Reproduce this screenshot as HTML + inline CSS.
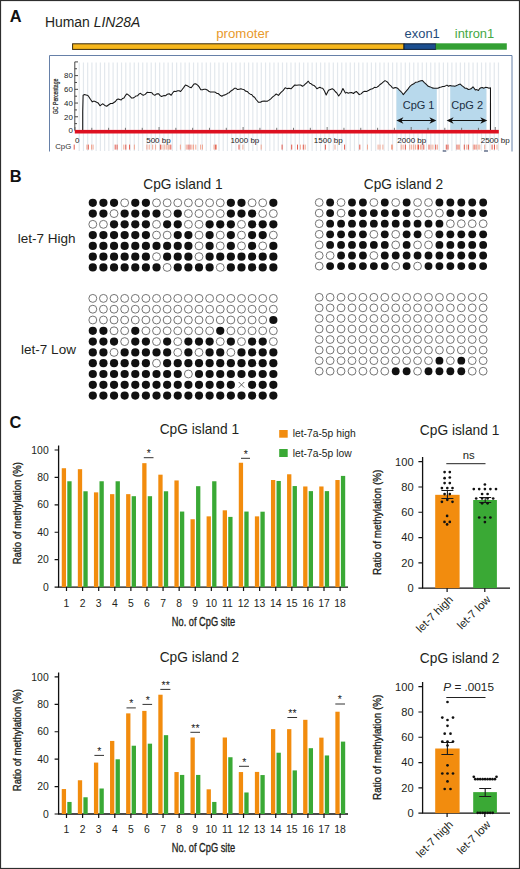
<!DOCTYPE html>
<html><head><meta charset="utf-8"><title>LIN28A methylation</title>
<style>html,body{margin:0;padding:0;background:#fff;}body{width:520px;height:869px;overflow:hidden;font-family:"Liberation Sans", sans-serif;}svg{display:block;}</style>
</head><body>
<svg width="520" height="869" viewBox="0 0 520 869" font-family='"Liberation Sans", sans-serif'><rect x="0" y="0" width="520" height="869" fill="#fff"/><text x="9.8" y="22.3" font-size="16.4" font-weight="bold" fill="#111">A</text><text x="44.9" y="26.6" font-size="13.95" fill="#231f20">Human <tspan font-style="italic">LIN28A</tspan></text><text x="216.2" y="38" font-size="13.25" fill="#E89A2C">promoter</text><text x="404.6" y="38.3" font-size="12.9" fill="#1F4B7A">exon1</text><text x="454.8" y="38.3" font-size="12.9" fill="#45A843">intron1</text><rect x="72.6" y="43.8" width="331.4" height="5.6" fill="#F7B71C" stroke="#3a2a08" stroke-width="1"/><rect x="404" y="43.8" width="31.8" height="5.6" fill="#1C4F8F" stroke="#0b1d33" stroke-width="1"/><rect x="435.8" y="43.3" width="71" height="6.4" fill="#33A033"/><path d="M49.5,151.5 V55.5 H512 V151.5" fill="none" stroke="#6680a8" stroke-width="1"/><path d="M79.20,62.5V151 M83.44,62.5V151 M87.67,62.5V151 M91.91,62.5V151 M96.14,62.5V151 M100.38,62.5V151 M104.62,62.5V151 M108.85,62.5V151 M113.09,62.5V151 M117.32,62.5V151 M121.56,62.5V151 M125.79,62.5V151 M130.03,62.5V151 M134.26,62.5V151 M138.50,62.5V151 M142.73,62.5V151 M146.97,62.5V151 M151.20,62.5V151 M155.44,62.5V151 M159.67,62.5V151 M163.91,62.5V151 M168.14,62.5V151 M172.38,62.5V151 M176.61,62.5V151 M180.85,62.5V151 M185.08,62.5V151 M189.31,62.5V151 M193.55,62.5V151 M197.79,62.5V151 M202.02,62.5V151 M206.25,62.5V151 M210.49,62.5V151 M214.73,62.5V151 M218.96,62.5V151 M223.20,62.5V151 M227.43,62.5V151 M231.67,62.5V151 M235.90,62.5V151 M240.14,62.5V151 M244.37,62.5V151 M248.61,62.5V151 M252.84,62.5V151 M257.08,62.5V151 M261.31,62.5V151 M265.55,62.5V151 M269.78,62.5V151 M274.01,62.5V151 M278.25,62.5V151 M282.49,62.5V151 M286.72,62.5V151 M290.96,62.5V151 M295.19,62.5V151 M299.43,62.5V151 M303.66,62.5V151 M307.89,62.5V151 M312.13,62.5V151 M316.37,62.5V151 M320.60,62.5V151 M324.84,62.5V151 M329.07,62.5V151 M333.31,62.5V151 M337.54,62.5V151 M341.77,62.5V151 M346.01,62.5V151 M350.25,62.5V151 M354.48,62.5V151 M358.72,62.5V151 M362.95,62.5V151 M367.19,62.5V151 M371.42,62.5V151 M375.65,62.5V151 M379.89,62.5V151 M384.12,62.5V151 M388.36,62.5V151 M392.60,62.5V151 M396.83,62.5V151 M401.07,62.5V151 M405.30,62.5V151 M409.53,62.5V151 M413.77,62.5V151 M418.00,62.5V151 M422.24,62.5V151 M426.48,62.5V151 M430.71,62.5V151 M434.95,62.5V151 M439.18,62.5V151 M443.42,62.5V151 M447.65,62.5V151 M451.88,62.5V151 M456.12,62.5V151 M460.36,62.5V151 M464.59,62.5V151 M468.83,62.5V151 M473.06,62.5V151 M477.30,62.5V151 M481.53,62.5V151 M485.76,62.5V151 M490.00,62.5V151 M494.24,62.5V151 M498.47,62.5V151" stroke="#e3e8ed" stroke-width="1.2" fill="none"/><path d="M396.5,129.8 L396.5,87.7 L399.4,90.2 L403.3,94.6 L406.2,91.2 L410.0,86.3 L413.8,83.8 L417.7,81.9 L422.5,80.6 L426.3,84.4 L430.2,86.9 L434.0,88.3 L436.8,88.3 L436.8,129.8Z M450.2,129.8 L450.2,85.5 L453.5,85.9 L457.5,85.1 L460.2,84.1 L462.2,85.9 L464.9,88.2 L468.3,89.5 L471.0,88.8 L473.0,86.8 L475.3,89.9 L478.4,90.5 L481.0,87.8 L483.7,88.2 L486.4,87.6 L486.4,129.8Z" fill="#b8d9ec"/><path d="M74.8,61.9V130.5" stroke="#333" stroke-width="0.9" fill="none"/><path d="M74.8,130.50h3.2 M74.8,123.64h2.2 M74.8,116.78h3.2 M74.8,109.92h2.2 M74.8,103.06h3.2 M74.8,96.20h2.2 M74.8,89.34h3.2 M74.8,82.48h2.2 M74.8,75.62h3.2 M74.8,68.76h2.2 M74.8,61.90h3.2" stroke="#333" stroke-width="0.9" fill="none"/><text x="72.9" y="133.3" font-size="7.9" text-anchor="end" fill="#222">0</text><text x="72.9" y="119.6" font-size="7.9" text-anchor="end" fill="#222">20</text><text x="72.9" y="105.9" font-size="7.9" text-anchor="end" fill="#222">40</text><text x="72.9" y="92.1" font-size="7.9" text-anchor="end" fill="#222">60</text><text x="72.9" y="78.4" font-size="7.9" text-anchor="end" fill="#222">80</text><text transform="translate(57.7,96.4) rotate(-90)" font-size="6.3" text-anchor="middle" fill="#222" stroke="#222" stroke-width="0.2" textLength="35.7" lengthAdjust="spacingAndGlyphs">GC Percentage</text><path d="M82.70,130.50 L82.70,111.70 L83.10,95.20 L84.60,94.60 L85.90,94.89 L87.20,95.18 L88.50,96.20 L90.40,99.26 L92.30,101.90 L93.75,101.10 L95.20,101.50 L96.65,102.25 L98.10,102.90 L100.00,105.80 L101.45,104.61 L102.90,103.80 L104.80,105.40 L106.70,106.20 L108.70,104.80 L110.60,103.53 L112.50,103.50 L113.95,102.51 L115.40,101.50 L116.85,99.60 L118.30,99.00 L119.75,99.41 L121.20,100.00 L122.60,98.45 L124.00,98.10 L125.45,95.38 L126.90,93.80 L128.35,94.89 L129.80,96.20 L131.70,98.10 L133.15,98.06 L134.60,97.10 L136.05,95.92 L137.50,95.80 L138.95,94.16 L140.40,93.30 L141.85,94.43 L143.30,95.20 L145.20,94.38 L147.10,92.30 L148.70,92.54 L150.30,92.42 L151.90,92.70 L153.35,94.62 L154.80,95.20 L156.75,93.87 L158.70,93.80 L160.10,95.65 L161.50,96.50 L162.80,95.97 L164.10,95.54 L165.40,95.80 L167.30,94.26 L169.20,93.80 L171.20,95.20 L172.60,92.98 L174.00,91.30 L175.85,91.49 L177.70,90.80 L179.15,90.70 L180.60,91.50 L182.20,89.45 L183.80,87.36 L185.40,85.00 L187.30,85.77 L189.20,86.90 L191.20,87.70 L192.60,85.92 L194.00,84.00 L195.30,83.85 L196.60,84.32 L197.90,85.40 L199.35,87.19 L200.80,89.80 L202.40,89.85 L204.00,89.30 L205.60,89.20 L207.20,89.91 L208.80,91.25 L210.40,92.10 L212.30,92.03 L214.20,92.10 L215.50,92.29 L216.80,93.45 L218.10,93.50 L220.00,95.18 L221.90,96.30 L223.50,95.18 L225.10,94.87 L226.70,94.00 L228.00,93.10 L229.30,92.66 L230.60,91.20 L232.50,90.07 L234.40,88.30 L236.00,88.30 L237.60,89.57 L239.20,89.20 L240.80,88.80 L242.40,89.35 L244.00,89.60 L245.60,91.13 L247.20,91.45 L248.80,93.10 L250.25,94.13 L251.70,94.55 L253.15,96.49 L254.60,97.30 L255.90,99.34 L257.20,100.74 L258.50,102.30 L260.40,102.28 L262.30,101.20 L264.25,100.99 L266.20,101.30 L267.50,101.12 L268.80,100.40 L270.75,98.78 L272.70,96.90 L274.45,95.56 L276.20,94.00 L278.50,95.40 L279.90,93.69 L281.30,92.10 L283.25,90.38 L285.20,87.70 L287.10,88.62 L289.00,88.30 L291.00,88.80 L292.90,86.86 L294.80,85.00 L296.75,85.23 L298.70,85.00 L300.60,85.03 L302.50,86.30 L303.95,85.33 L305.40,83.80 L306.85,82.71 L308.30,81.20 L309.75,83.19 L311.20,83.80 L312.60,85.05 L314.00,85.40 L315.45,86.80 L316.90,88.80 L318.35,87.89 L319.80,87.30 L321.25,88.04 L322.70,88.30 L324.45,90.98 L326.20,95.00 L328.50,90.20 L330.40,89.40 L332.30,88.70 L333.75,89.64 L335.20,91.50 L336.95,93.21 L338.70,96.00 L341.00,92.70 L342.90,88.50 L345.40,93.10 L346.80,92.35 L348.20,93.21 L349.60,92.70 L351.55,92.58 L353.50,93.50 L354.90,92.15 L356.30,91.50 L357.75,92.90 L359.20,94.60 L361.05,93.87 L362.90,92.10 L364.80,91.21 L366.70,91.50 L368.00,90.66 L369.30,90.04 L370.60,89.20 L372.50,88.79 L374.40,87.30 L375.70,87.41 L377.00,87.14 L378.30,86.30 L379.75,84.74 L381.20,83.80 L383.10,82.08 L385.00,80.60 L386.45,81.35 L387.90,82.50 L389.35,84.69 L390.80,85.80 L392.25,87.69 L393.70,88.30 L395.10,87.51 L396.50,87.70 L397.95,88.50 L399.40,90.20 L400.70,91.29 L402.00,92.76 L403.30,94.60 L404.75,92.88 L406.20,91.20 L408.10,88.87 L410.00,86.30 L411.90,84.72 L413.80,83.80 L415.75,82.16 L417.70,81.90 L419.30,81.35 L420.90,80.85 L422.50,80.60 L424.40,82.59 L426.30,84.40 L428.25,86.28 L430.20,86.90 L432.10,87.87 L434.00,88.30 L435.95,88.32 L437.90,88.30 L440.00,87.20 L441.35,86.96 L442.70,86.40 L444.05,86.40 L445.40,85.90 L446.97,85.14 L448.53,86.19 L450.10,85.50 L451.80,86.09 L453.50,85.90 L454.83,86.16 L456.17,85.78 L457.50,85.10 L458.85,84.45 L460.20,84.10 L462.20,85.90 L463.55,86.91 L464.90,88.20 L466.60,88.29 L468.30,89.50 L469.65,89.34 L471.00,88.80 L473.00,86.80 L475.30,89.90 L476.85,89.59 L478.40,90.50 L479.70,88.54 L481.00,87.80 L482.35,87.59 L483.70,88.20 L485.40,87.38 L487.10,87.50 L489.10,88.20 L490.50,87.80 L490.50,130.50" fill="none" stroke="#161616" stroke-width="1.05" stroke-linejoin="round"/><text x="418.6" y="109.4" font-size="11" text-anchor="middle" fill="#1b2e42">CpG 1</text><text x="467.2" y="109.4" font-size="11" text-anchor="middle" fill="#1b2e42">CpG 2</text><path d="M399.4,120.5H433.4" stroke="#111" stroke-width="1"/><path d="M396.4,120.5 L403.4,117.2 L401.4,120.5 L403.4,123.8Z M436.4,120.5 L429.4,117.2 L431.4,120.5 L429.4,123.8Z" fill="#111"/><path d="M449.6,120.5H484.3" stroke="#111" stroke-width="1"/><path d="M446.6,120.5 L453.6,117.2 L451.6,120.5 L453.6,123.8Z M487.3,120.5 L480.3,117.2 L482.3,120.5 L480.3,123.8Z" fill="#111"/><rect x="74.8" y="129.9" width="424" height="3.6" fill="#dd1020"/><path d="M75.00,127.00V130 M91.81,127.80V130 M108.62,127.80V130 M125.43,127.80V130 M142.24,127.80V130 M159.05,127.00V130 M175.86,127.80V130 M192.67,127.80V130 M209.48,127.80V130 M226.29,127.80V130 M243.10,127.00V130 M259.91,127.80V130 M276.72,127.80V130 M293.53,127.80V130 M310.34,127.80V130 M327.15,127.00V130 M343.96,127.80V130 M360.77,127.80V130 M377.58,127.80V130 M394.39,127.80V130 M411.20,127.00V130 M428.01,127.80V130 M444.82,127.80V130 M461.63,127.80V130 M478.44,127.80V130 M495.25,127.00V130" stroke="#555" stroke-width="0.8" fill="none"/><text x="77.3" y="142.6" font-size="8" text-anchor="middle" fill="#222">0</text><text x="146.2" y="142.6" font-size="8" fill="#222">500 bp</text><text x="230.4" y="142.6" font-size="8" fill="#222">1000 bp</text><text x="313.8" y="142.6" font-size="8" fill="#222">1500 bp</text><text x="397.3" y="142.6" font-size="8" fill="#222">2000 bp</text><text x="480.7" y="142.6" font-size="8" fill="#222">2500 bp</text><text x="55.2" y="149.3" font-size="7.8" fill="#333">CpG</text><path d="M74.2,144.6V149.6 M88.3,144.6V149.6 M115.2,144.6V149.6 M117.1,144.6V149.6 M125.8,144.6V149.6 M129.6,144.6V149.6 M160.4,144.6V149.6 M170.8,144.6V149.6 M188.1,144.6V149.6 M190.0,144.6V149.6 M215.4,144.6V149.6 M239.0,144.6V149.6 M282.1,144.6V149.6 M291.7,144.6V149.6 M297.5,144.6V149.6 M303.3,144.6V149.6 M325.4,144.6V149.6 M344.6,144.6V149.6 M359.8,144.6V149.6 M405.4,144.6V149.6 M418.5,144.6V149.6 M423.8,144.6V149.6 M429.0,144.6V149.6 M435.7,144.6V149.6 M446.3,144.6V149.6 M448.0,144.6V149.6 M457.0,144.6V149.6 M464.3,144.6V149.6 M468.4,144.6V149.6 M474.9,144.6V149.6 M492.1,144.6V149.6 M494.5,144.6V149.6" stroke="#e0483a" stroke-width="0.9" fill="none"/><path d="M86.9,144.6V149.6 M91.5,144.6V149.6 M93.1,144.6V149.6 M123.8,144.6V149.6 M134.4,144.6V149.6 M146.9,144.6V149.6 M149.2,144.6V149.6 M152.7,144.6V149.6 M155.6,144.6V149.6 M161.9,144.6V149.6 M164.2,144.6V149.6 M166.2,144.6V149.6 M168.1,144.6V149.6 M169.2,144.6V149.6 M180.4,144.6V149.6 M186.2,144.6V149.6 M191.9,144.6V149.6 M193.5,144.6V149.6 M195.8,144.6V149.6 M200.6,144.6V149.6 M202.5,144.6V149.6 M214.0,144.6V149.6 M216.5,144.6V149.6 M242.9,144.6V149.6 M261.2,144.6V149.6 M300.4,144.6V149.6 M305.2,144.6V149.6 M335.0,144.6V149.6 M367.5,144.6V149.6 M378.1,144.6V149.6 M380.0,144.6V149.6 M382.9,144.6V149.6 M391.5,144.6V149.6 M392.5,144.6V149.6 M401.2,144.6V149.6 M403.1,144.6V149.6 M409.8,144.6V149.6 M411.7,144.6V149.6 M413.7,144.6V149.6 M415.6,144.6V149.6 M417.5,144.6V149.6 M420.4,144.6V149.6 M421.9,144.6V149.6 M431.0,144.6V149.6 M432.9,144.6V149.6 M437.4,144.6V149.6 M458.6,144.6V149.6 M459.4,144.6V149.6 M466.8,144.6V149.6 M473.3,144.6V149.6 M476.6,144.6V149.6 M478.2,144.6V149.6 M479.8,144.6V149.6 M484.7,144.6V149.6 M497.0,144.6V149.6" stroke="#f0a08a" stroke-width="0.9" fill="none"/><path d="M442.7,151H446.3 M484,151H488" stroke="#1b2c55" stroke-width="1.2"/><text x="9.8" y="182.2" font-size="16.4" font-weight="bold" fill="#111">B</text><text x="183" y="188.9" font-size="13.75" text-anchor="middle" fill="#231f20">CpG island 1</text><text x="403.5" y="188.9" font-size="13.75" text-anchor="middle" fill="#231f20">CpG island 2</text><text x="75.6" y="242.6" font-size="13.5" text-anchor="end" fill="#231f20">let-7 High</text><text x="75.9" y="354.2" font-size="13.5" text-anchor="end" fill="#231f20">let-7 Low</text><g fill="#111"><circle cx="92.80" cy="202.80" r="4.1"/><circle cx="103.42" cy="202.80" r="4.1"/><circle cx="114.04" cy="202.80" r="4.1"/><circle cx="135.28" cy="202.80" r="4.1"/><circle cx="145.90" cy="202.80" r="4.1"/><circle cx="230.86" cy="202.80" r="4.1"/><circle cx="241.48" cy="202.80" r="4.1"/><circle cx="273.34" cy="202.80" r="4.1"/><circle cx="92.80" cy="213.57" r="4.1"/><circle cx="103.42" cy="213.57" r="4.1"/><circle cx="124.66" cy="213.57" r="4.1"/><circle cx="135.28" cy="213.57" r="4.1"/><circle cx="145.90" cy="213.57" r="4.1"/><circle cx="156.52" cy="213.57" r="4.1"/><circle cx="177.76" cy="213.57" r="4.1"/><circle cx="230.86" cy="213.57" r="4.1"/><circle cx="241.48" cy="213.57" r="4.1"/><circle cx="252.10" cy="213.57" r="4.1"/><circle cx="114.04" cy="224.34" r="4.1"/><circle cx="124.66" cy="224.34" r="4.1"/><circle cx="135.28" cy="224.34" r="4.1"/><circle cx="145.90" cy="224.34" r="4.1"/><circle cx="167.14" cy="224.34" r="4.1"/><circle cx="177.76" cy="224.34" r="4.1"/><circle cx="209.62" cy="224.34" r="4.1"/><circle cx="220.24" cy="224.34" r="4.1"/><circle cx="230.86" cy="224.34" r="4.1"/><circle cx="252.10" cy="224.34" r="4.1"/><circle cx="262.72" cy="224.34" r="4.1"/><circle cx="273.34" cy="224.34" r="4.1"/><circle cx="92.80" cy="235.11" r="4.1"/><circle cx="103.42" cy="235.11" r="4.1"/><circle cx="114.04" cy="235.11" r="4.1"/><circle cx="124.66" cy="235.11" r="4.1"/><circle cx="135.28" cy="235.11" r="4.1"/><circle cx="145.90" cy="235.11" r="4.1"/><circle cx="177.76" cy="235.11" r="4.1"/><circle cx="188.38" cy="235.11" r="4.1"/><circle cx="209.62" cy="235.11" r="4.1"/><circle cx="230.86" cy="235.11" r="4.1"/><circle cx="252.10" cy="235.11" r="4.1"/><circle cx="262.72" cy="235.11" r="4.1"/><circle cx="92.80" cy="245.88" r="4.1"/><circle cx="103.42" cy="245.88" r="4.1"/><circle cx="114.04" cy="245.88" r="4.1"/><circle cx="124.66" cy="245.88" r="4.1"/><circle cx="135.28" cy="245.88" r="4.1"/><circle cx="145.90" cy="245.88" r="4.1"/><circle cx="156.52" cy="245.88" r="4.1"/><circle cx="167.14" cy="245.88" r="4.1"/><circle cx="177.76" cy="245.88" r="4.1"/><circle cx="188.38" cy="245.88" r="4.1"/><circle cx="209.62" cy="245.88" r="4.1"/><circle cx="230.86" cy="245.88" r="4.1"/><circle cx="252.10" cy="245.88" r="4.1"/><circle cx="273.34" cy="245.88" r="4.1"/><circle cx="92.80" cy="256.65" r="4.1"/><circle cx="103.42" cy="256.65" r="4.1"/><circle cx="114.04" cy="256.65" r="4.1"/><circle cx="124.66" cy="256.65" r="4.1"/><circle cx="135.28" cy="256.65" r="4.1"/><circle cx="145.90" cy="256.65" r="4.1"/><circle cx="167.14" cy="256.65" r="4.1"/><circle cx="177.76" cy="256.65" r="4.1"/><circle cx="188.38" cy="256.65" r="4.1"/><circle cx="209.62" cy="256.65" r="4.1"/><circle cx="220.24" cy="256.65" r="4.1"/><circle cx="230.86" cy="256.65" r="4.1"/><circle cx="241.48" cy="256.65" r="4.1"/><circle cx="252.10" cy="256.65" r="4.1"/><circle cx="262.72" cy="256.65" r="4.1"/><circle cx="273.34" cy="256.65" r="4.1"/><circle cx="92.80" cy="267.42" r="4.1"/><circle cx="103.42" cy="267.42" r="4.1"/><circle cx="114.04" cy="267.42" r="4.1"/><circle cx="124.66" cy="267.42" r="4.1"/><circle cx="135.28" cy="267.42" r="4.1"/><circle cx="145.90" cy="267.42" r="4.1"/><circle cx="156.52" cy="267.42" r="4.1"/><circle cx="177.76" cy="267.42" r="4.1"/><circle cx="188.38" cy="267.42" r="4.1"/><circle cx="199.00" cy="267.42" r="4.1"/><circle cx="209.62" cy="267.42" r="4.1"/><circle cx="230.86" cy="267.42" r="4.1"/><circle cx="241.48" cy="267.42" r="4.1"/><circle cx="252.10" cy="267.42" r="4.1"/><circle cx="262.72" cy="267.42" r="4.1"/><circle cx="273.34" cy="267.42" r="4.1"/></g><g fill="#fff" stroke="#6d6d6d" stroke-width="0.95"><circle cx="124.66" cy="202.80" r="3.95"/><circle cx="156.52" cy="202.80" r="3.95"/><circle cx="167.14" cy="202.80" r="3.95"/><circle cx="177.76" cy="202.80" r="3.95"/><circle cx="188.38" cy="202.80" r="3.95"/><circle cx="199.00" cy="202.80" r="3.95"/><circle cx="209.62" cy="202.80" r="3.95"/><circle cx="220.24" cy="202.80" r="3.95"/><circle cx="252.10" cy="202.80" r="3.95"/><circle cx="262.72" cy="202.80" r="3.95"/><circle cx="114.04" cy="213.57" r="3.95"/><circle cx="167.14" cy="213.57" r="3.95"/><circle cx="188.38" cy="213.57" r="3.95"/><circle cx="199.00" cy="213.57" r="3.95"/><circle cx="209.62" cy="213.57" r="3.95"/><circle cx="220.24" cy="213.57" r="3.95"/><circle cx="262.72" cy="213.57" r="3.95"/><circle cx="273.34" cy="213.57" r="3.95"/><circle cx="92.80" cy="224.34" r="3.95"/><circle cx="103.42" cy="224.34" r="3.95"/><circle cx="156.52" cy="224.34" r="3.95"/><circle cx="188.38" cy="224.34" r="3.95"/><circle cx="199.00" cy="224.34" r="3.95"/><circle cx="241.48" cy="224.34" r="3.95"/><circle cx="156.52" cy="235.11" r="3.95"/><circle cx="167.14" cy="235.11" r="3.95"/><circle cx="199.00" cy="235.11" r="3.95"/><circle cx="220.24" cy="235.11" r="3.95"/><circle cx="241.48" cy="235.11" r="3.95"/><circle cx="273.34" cy="235.11" r="3.95"/><circle cx="199.00" cy="245.88" r="3.95"/><circle cx="220.24" cy="245.88" r="3.95"/><circle cx="241.48" cy="245.88" r="3.95"/><circle cx="262.72" cy="245.88" r="3.95"/><circle cx="156.52" cy="256.65" r="3.95"/><circle cx="199.00" cy="256.65" r="3.95"/><circle cx="167.14" cy="267.42" r="3.95"/><circle cx="220.24" cy="267.42" r="3.95"/></g><g fill="#111"><circle cx="273.34" cy="320.00" r="4.1"/><circle cx="92.80" cy="330.80" r="4.1"/><circle cx="103.42" cy="330.80" r="4.1"/><circle cx="135.28" cy="330.80" r="4.1"/><circle cx="220.24" cy="330.80" r="4.1"/><circle cx="92.80" cy="341.60" r="4.1"/><circle cx="103.42" cy="341.60" r="4.1"/><circle cx="114.04" cy="341.60" r="4.1"/><circle cx="135.28" cy="341.60" r="4.1"/><circle cx="145.90" cy="341.60" r="4.1"/><circle cx="167.14" cy="341.60" r="4.1"/><circle cx="188.38" cy="341.60" r="4.1"/><circle cx="199.00" cy="341.60" r="4.1"/><circle cx="209.62" cy="341.60" r="4.1"/><circle cx="230.86" cy="341.60" r="4.1"/><circle cx="252.10" cy="341.60" r="4.1"/><circle cx="262.72" cy="341.60" r="4.1"/><circle cx="92.80" cy="352.40" r="4.1"/><circle cx="103.42" cy="352.40" r="4.1"/><circle cx="124.66" cy="352.40" r="4.1"/><circle cx="135.28" cy="352.40" r="4.1"/><circle cx="145.90" cy="352.40" r="4.1"/><circle cx="156.52" cy="352.40" r="4.1"/><circle cx="167.14" cy="352.40" r="4.1"/><circle cx="188.38" cy="352.40" r="4.1"/><circle cx="209.62" cy="352.40" r="4.1"/><circle cx="220.24" cy="352.40" r="4.1"/><circle cx="241.48" cy="352.40" r="4.1"/><circle cx="252.10" cy="352.40" r="4.1"/><circle cx="262.72" cy="352.40" r="4.1"/><circle cx="273.34" cy="352.40" r="4.1"/><circle cx="92.80" cy="363.20" r="4.1"/><circle cx="103.42" cy="363.20" r="4.1"/><circle cx="114.04" cy="363.20" r="4.1"/><circle cx="124.66" cy="363.20" r="4.1"/><circle cx="135.28" cy="363.20" r="4.1"/><circle cx="145.90" cy="363.20" r="4.1"/><circle cx="167.14" cy="363.20" r="4.1"/><circle cx="177.76" cy="363.20" r="4.1"/><circle cx="188.38" cy="363.20" r="4.1"/><circle cx="199.00" cy="363.20" r="4.1"/><circle cx="209.62" cy="363.20" r="4.1"/><circle cx="220.24" cy="363.20" r="4.1"/><circle cx="230.86" cy="363.20" r="4.1"/><circle cx="241.48" cy="363.20" r="4.1"/><circle cx="252.10" cy="363.20" r="4.1"/><circle cx="262.72" cy="363.20" r="4.1"/><circle cx="273.34" cy="363.20" r="4.1"/><circle cx="92.80" cy="374.00" r="4.1"/><circle cx="103.42" cy="374.00" r="4.1"/><circle cx="114.04" cy="374.00" r="4.1"/><circle cx="124.66" cy="374.00" r="4.1"/><circle cx="135.28" cy="374.00" r="4.1"/><circle cx="145.90" cy="374.00" r="4.1"/><circle cx="156.52" cy="374.00" r="4.1"/><circle cx="167.14" cy="374.00" r="4.1"/><circle cx="177.76" cy="374.00" r="4.1"/><circle cx="199.00" cy="374.00" r="4.1"/><circle cx="209.62" cy="374.00" r="4.1"/><circle cx="220.24" cy="374.00" r="4.1"/><circle cx="230.86" cy="374.00" r="4.1"/><circle cx="241.48" cy="374.00" r="4.1"/><circle cx="252.10" cy="374.00" r="4.1"/><circle cx="262.72" cy="374.00" r="4.1"/><circle cx="273.34" cy="374.00" r="4.1"/><circle cx="92.80" cy="384.80" r="4.1"/><circle cx="103.42" cy="384.80" r="4.1"/><circle cx="114.04" cy="384.80" r="4.1"/><circle cx="124.66" cy="384.80" r="4.1"/><circle cx="135.28" cy="384.80" r="4.1"/><circle cx="145.90" cy="384.80" r="4.1"/><circle cx="156.52" cy="384.80" r="4.1"/><circle cx="167.14" cy="384.80" r="4.1"/><circle cx="177.76" cy="384.80" r="4.1"/><circle cx="188.38" cy="384.80" r="4.1"/><circle cx="199.00" cy="384.80" r="4.1"/><circle cx="209.62" cy="384.80" r="4.1"/><circle cx="220.24" cy="384.80" r="4.1"/><circle cx="230.86" cy="384.80" r="4.1"/><circle cx="252.10" cy="384.80" r="4.1"/><circle cx="262.72" cy="384.80" r="4.1"/><circle cx="273.34" cy="384.80" r="4.1"/><circle cx="92.80" cy="395.60" r="4.1"/><circle cx="103.42" cy="395.60" r="4.1"/><circle cx="114.04" cy="395.60" r="4.1"/><circle cx="124.66" cy="395.60" r="4.1"/><circle cx="135.28" cy="395.60" r="4.1"/><circle cx="145.90" cy="395.60" r="4.1"/><circle cx="156.52" cy="395.60" r="4.1"/><circle cx="167.14" cy="395.60" r="4.1"/><circle cx="177.76" cy="395.60" r="4.1"/><circle cx="188.38" cy="395.60" r="4.1"/><circle cx="199.00" cy="395.60" r="4.1"/><circle cx="209.62" cy="395.60" r="4.1"/><circle cx="220.24" cy="395.60" r="4.1"/><circle cx="230.86" cy="395.60" r="4.1"/><circle cx="241.48" cy="395.60" r="4.1"/><circle cx="252.10" cy="395.60" r="4.1"/><circle cx="262.72" cy="395.60" r="4.1"/><circle cx="273.34" cy="395.60" r="4.1"/></g><g fill="#fff" stroke="#6d6d6d" stroke-width="0.95"><circle cx="92.80" cy="298.40" r="3.95"/><circle cx="103.42" cy="298.40" r="3.95"/><circle cx="114.04" cy="298.40" r="3.95"/><circle cx="124.66" cy="298.40" r="3.95"/><circle cx="135.28" cy="298.40" r="3.95"/><circle cx="145.90" cy="298.40" r="3.95"/><circle cx="156.52" cy="298.40" r="3.95"/><circle cx="167.14" cy="298.40" r="3.95"/><circle cx="177.76" cy="298.40" r="3.95"/><circle cx="188.38" cy="298.40" r="3.95"/><circle cx="199.00" cy="298.40" r="3.95"/><circle cx="209.62" cy="298.40" r="3.95"/><circle cx="220.24" cy="298.40" r="3.95"/><circle cx="230.86" cy="298.40" r="3.95"/><circle cx="241.48" cy="298.40" r="3.95"/><circle cx="252.10" cy="298.40" r="3.95"/><circle cx="262.72" cy="298.40" r="3.95"/><circle cx="273.34" cy="298.40" r="3.95"/><circle cx="92.80" cy="309.20" r="3.95"/><circle cx="103.42" cy="309.20" r="3.95"/><circle cx="114.04" cy="309.20" r="3.95"/><circle cx="124.66" cy="309.20" r="3.95"/><circle cx="135.28" cy="309.20" r="3.95"/><circle cx="145.90" cy="309.20" r="3.95"/><circle cx="156.52" cy="309.20" r="3.95"/><circle cx="167.14" cy="309.20" r="3.95"/><circle cx="177.76" cy="309.20" r="3.95"/><circle cx="188.38" cy="309.20" r="3.95"/><circle cx="199.00" cy="309.20" r="3.95"/><circle cx="209.62" cy="309.20" r="3.95"/><circle cx="220.24" cy="309.20" r="3.95"/><circle cx="230.86" cy="309.20" r="3.95"/><circle cx="241.48" cy="309.20" r="3.95"/><circle cx="252.10" cy="309.20" r="3.95"/><circle cx="262.72" cy="309.20" r="3.95"/><circle cx="273.34" cy="309.20" r="3.95"/><circle cx="92.80" cy="320.00" r="3.95"/><circle cx="103.42" cy="320.00" r="3.95"/><circle cx="114.04" cy="320.00" r="3.95"/><circle cx="124.66" cy="320.00" r="3.95"/><circle cx="135.28" cy="320.00" r="3.95"/><circle cx="145.90" cy="320.00" r="3.95"/><circle cx="156.52" cy="320.00" r="3.95"/><circle cx="167.14" cy="320.00" r="3.95"/><circle cx="177.76" cy="320.00" r="3.95"/><circle cx="188.38" cy="320.00" r="3.95"/><circle cx="199.00" cy="320.00" r="3.95"/><circle cx="209.62" cy="320.00" r="3.95"/><circle cx="220.24" cy="320.00" r="3.95"/><circle cx="230.86" cy="320.00" r="3.95"/><circle cx="241.48" cy="320.00" r="3.95"/><circle cx="252.10" cy="320.00" r="3.95"/><circle cx="262.72" cy="320.00" r="3.95"/><circle cx="114.04" cy="330.80" r="3.95"/><circle cx="124.66" cy="330.80" r="3.95"/><circle cx="145.90" cy="330.80" r="3.95"/><circle cx="156.52" cy="330.80" r="3.95"/><circle cx="167.14" cy="330.80" r="3.95"/><circle cx="177.76" cy="330.80" r="3.95"/><circle cx="188.38" cy="330.80" r="3.95"/><circle cx="199.00" cy="330.80" r="3.95"/><circle cx="209.62" cy="330.80" r="3.95"/><circle cx="230.86" cy="330.80" r="3.95"/><circle cx="241.48" cy="330.80" r="3.95"/><circle cx="252.10" cy="330.80" r="3.95"/><circle cx="262.72" cy="330.80" r="3.95"/><circle cx="273.34" cy="330.80" r="3.95"/><circle cx="124.66" cy="341.60" r="3.95"/><circle cx="156.52" cy="341.60" r="3.95"/><circle cx="177.76" cy="341.60" r="3.95"/><circle cx="220.24" cy="341.60" r="3.95"/><circle cx="241.48" cy="341.60" r="3.95"/><circle cx="273.34" cy="341.60" r="3.95"/><circle cx="114.04" cy="352.40" r="3.95"/><circle cx="177.76" cy="352.40" r="3.95"/><circle cx="199.00" cy="352.40" r="3.95"/><circle cx="230.86" cy="352.40" r="3.95"/><circle cx="156.52" cy="363.20" r="3.95"/><circle cx="188.38" cy="374.00" r="3.95"/></g><path d="M238.67999999999995,381.99999999999994L244.27999999999997,387.59999999999997M244.27999999999997,381.99999999999994L238.67999999999995,387.59999999999997" stroke="#444" stroke-width="0.8"/><g fill="#111"><circle cx="330.13" cy="202.50" r="3.92"/><circle cx="351.99" cy="202.50" r="3.92"/><circle cx="362.92" cy="202.50" r="3.92"/><circle cx="384.78" cy="202.50" r="3.92"/><circle cx="406.64" cy="202.50" r="3.92"/><circle cx="439.43" cy="202.50" r="3.92"/><circle cx="450.36" cy="202.50" r="3.92"/><circle cx="461.29" cy="202.50" r="3.92"/><circle cx="472.22" cy="202.50" r="3.92"/><circle cx="483.15" cy="202.50" r="3.92"/><circle cx="330.13" cy="213.10" r="3.92"/><circle cx="351.99" cy="213.10" r="3.92"/><circle cx="362.92" cy="213.10" r="3.92"/><circle cx="373.85" cy="213.10" r="3.92"/><circle cx="384.78" cy="213.10" r="3.92"/><circle cx="395.71" cy="213.10" r="3.92"/><circle cx="406.64" cy="213.10" r="3.92"/><circle cx="450.36" cy="213.10" r="3.92"/><circle cx="461.29" cy="213.10" r="3.92"/><circle cx="472.22" cy="213.10" r="3.92"/><circle cx="483.15" cy="213.10" r="3.92"/><circle cx="330.13" cy="223.70" r="3.92"/><circle cx="341.06" cy="223.70" r="3.92"/><circle cx="351.99" cy="223.70" r="3.92"/><circle cx="362.92" cy="223.70" r="3.92"/><circle cx="373.85" cy="223.70" r="3.92"/><circle cx="384.78" cy="223.70" r="3.92"/><circle cx="395.71" cy="223.70" r="3.92"/><circle cx="406.64" cy="223.70" r="3.92"/><circle cx="417.57" cy="223.70" r="3.92"/><circle cx="428.50" cy="223.70" r="3.92"/><circle cx="439.43" cy="223.70" r="3.92"/><circle cx="330.13" cy="234.30" r="3.92"/><circle cx="341.06" cy="234.30" r="3.92"/><circle cx="351.99" cy="234.30" r="3.92"/><circle cx="362.92" cy="234.30" r="3.92"/><circle cx="384.78" cy="234.30" r="3.92"/><circle cx="406.64" cy="234.30" r="3.92"/><circle cx="417.57" cy="234.30" r="3.92"/><circle cx="439.43" cy="234.30" r="3.92"/><circle cx="450.36" cy="234.30" r="3.92"/><circle cx="461.29" cy="234.30" r="3.92"/><circle cx="472.22" cy="234.30" r="3.92"/><circle cx="483.15" cy="234.30" r="3.92"/><circle cx="330.13" cy="244.90" r="3.92"/><circle cx="341.06" cy="244.90" r="3.92"/><circle cx="351.99" cy="244.90" r="3.92"/><circle cx="362.92" cy="244.90" r="3.92"/><circle cx="373.85" cy="244.90" r="3.92"/><circle cx="384.78" cy="244.90" r="3.92"/><circle cx="406.64" cy="244.90" r="3.92"/><circle cx="439.43" cy="244.90" r="3.92"/><circle cx="450.36" cy="244.90" r="3.92"/><circle cx="461.29" cy="244.90" r="3.92"/><circle cx="472.22" cy="244.90" r="3.92"/><circle cx="483.15" cy="244.90" r="3.92"/><circle cx="341.06" cy="255.50" r="3.92"/><circle cx="351.99" cy="255.50" r="3.92"/><circle cx="362.92" cy="255.50" r="3.92"/><circle cx="384.78" cy="255.50" r="3.92"/><circle cx="395.71" cy="255.50" r="3.92"/><circle cx="406.64" cy="255.50" r="3.92"/><circle cx="417.57" cy="255.50" r="3.92"/><circle cx="428.50" cy="255.50" r="3.92"/><circle cx="439.43" cy="255.50" r="3.92"/><circle cx="450.36" cy="255.50" r="3.92"/><circle cx="461.29" cy="255.50" r="3.92"/><circle cx="472.22" cy="255.50" r="3.92"/><circle cx="483.15" cy="255.50" r="3.92"/><circle cx="330.13" cy="266.10" r="3.92"/><circle cx="341.06" cy="266.10" r="3.92"/><circle cx="351.99" cy="266.10" r="3.92"/><circle cx="362.92" cy="266.10" r="3.92"/><circle cx="373.85" cy="266.10" r="3.92"/><circle cx="384.78" cy="266.10" r="3.92"/><circle cx="406.64" cy="266.10" r="3.92"/><circle cx="428.50" cy="266.10" r="3.92"/><circle cx="439.43" cy="266.10" r="3.92"/><circle cx="450.36" cy="266.10" r="3.92"/><circle cx="461.29" cy="266.10" r="3.92"/><circle cx="472.22" cy="266.10" r="3.92"/><circle cx="483.15" cy="266.10" r="3.92"/></g><g fill="#fff" stroke="#6d6d6d" stroke-width="0.95"><circle cx="319.20" cy="202.50" r="3.9"/><circle cx="341.06" cy="202.50" r="3.9"/><circle cx="373.85" cy="202.50" r="3.9"/><circle cx="395.71" cy="202.50" r="3.9"/><circle cx="417.57" cy="202.50" r="3.9"/><circle cx="428.50" cy="202.50" r="3.9"/><circle cx="319.20" cy="213.10" r="3.9"/><circle cx="341.06" cy="213.10" r="3.9"/><circle cx="417.57" cy="213.10" r="3.9"/><circle cx="428.50" cy="213.10" r="3.9"/><circle cx="439.43" cy="213.10" r="3.9"/><circle cx="319.20" cy="223.70" r="3.9"/><circle cx="450.36" cy="223.70" r="3.9"/><circle cx="461.29" cy="223.70" r="3.9"/><circle cx="472.22" cy="223.70" r="3.9"/><circle cx="483.15" cy="223.70" r="3.9"/><circle cx="319.20" cy="234.30" r="3.9"/><circle cx="373.85" cy="234.30" r="3.9"/><circle cx="395.71" cy="234.30" r="3.9"/><circle cx="428.50" cy="234.30" r="3.9"/><circle cx="319.20" cy="244.90" r="3.9"/><circle cx="395.71" cy="244.90" r="3.9"/><circle cx="417.57" cy="244.90" r="3.9"/><circle cx="428.50" cy="244.90" r="3.9"/><circle cx="319.20" cy="255.50" r="3.9"/><circle cx="330.13" cy="255.50" r="3.9"/><circle cx="373.85" cy="255.50" r="3.9"/><circle cx="319.20" cy="266.10" r="3.9"/><circle cx="395.71" cy="266.10" r="3.9"/><circle cx="417.57" cy="266.10" r="3.9"/></g><g fill="#111"><circle cx="439.43" cy="360.66" r="3.92"/><circle cx="461.29" cy="360.66" r="3.92"/><circle cx="395.71" cy="371.22" r="3.92"/><circle cx="406.64" cy="371.22" r="3.92"/><circle cx="428.50" cy="371.22" r="3.92"/><circle cx="439.43" cy="371.22" r="3.92"/><circle cx="450.36" cy="371.22" r="3.92"/><circle cx="461.29" cy="371.22" r="3.92"/></g><g fill="#fff" stroke="#6d6d6d" stroke-width="0.95"><circle cx="319.20" cy="297.30" r="3.9"/><circle cx="330.13" cy="297.30" r="3.9"/><circle cx="341.06" cy="297.30" r="3.9"/><circle cx="351.99" cy="297.30" r="3.9"/><circle cx="362.92" cy="297.30" r="3.9"/><circle cx="373.85" cy="297.30" r="3.9"/><circle cx="384.78" cy="297.30" r="3.9"/><circle cx="395.71" cy="297.30" r="3.9"/><circle cx="406.64" cy="297.30" r="3.9"/><circle cx="417.57" cy="297.30" r="3.9"/><circle cx="428.50" cy="297.30" r="3.9"/><circle cx="439.43" cy="297.30" r="3.9"/><circle cx="450.36" cy="297.30" r="3.9"/><circle cx="461.29" cy="297.30" r="3.9"/><circle cx="472.22" cy="297.30" r="3.9"/><circle cx="483.15" cy="297.30" r="3.9"/><circle cx="319.20" cy="307.86" r="3.9"/><circle cx="330.13" cy="307.86" r="3.9"/><circle cx="341.06" cy="307.86" r="3.9"/><circle cx="351.99" cy="307.86" r="3.9"/><circle cx="362.92" cy="307.86" r="3.9"/><circle cx="373.85" cy="307.86" r="3.9"/><circle cx="384.78" cy="307.86" r="3.9"/><circle cx="395.71" cy="307.86" r="3.9"/><circle cx="406.64" cy="307.86" r="3.9"/><circle cx="417.57" cy="307.86" r="3.9"/><circle cx="428.50" cy="307.86" r="3.9"/><circle cx="439.43" cy="307.86" r="3.9"/><circle cx="450.36" cy="307.86" r="3.9"/><circle cx="461.29" cy="307.86" r="3.9"/><circle cx="472.22" cy="307.86" r="3.9"/><circle cx="483.15" cy="307.86" r="3.9"/><circle cx="319.20" cy="318.42" r="3.9"/><circle cx="330.13" cy="318.42" r="3.9"/><circle cx="341.06" cy="318.42" r="3.9"/><circle cx="351.99" cy="318.42" r="3.9"/><circle cx="362.92" cy="318.42" r="3.9"/><circle cx="373.85" cy="318.42" r="3.9"/><circle cx="384.78" cy="318.42" r="3.9"/><circle cx="395.71" cy="318.42" r="3.9"/><circle cx="406.64" cy="318.42" r="3.9"/><circle cx="417.57" cy="318.42" r="3.9"/><circle cx="428.50" cy="318.42" r="3.9"/><circle cx="439.43" cy="318.42" r="3.9"/><circle cx="450.36" cy="318.42" r="3.9"/><circle cx="461.29" cy="318.42" r="3.9"/><circle cx="472.22" cy="318.42" r="3.9"/><circle cx="483.15" cy="318.42" r="3.9"/><circle cx="319.20" cy="328.98" r="3.9"/><circle cx="330.13" cy="328.98" r="3.9"/><circle cx="341.06" cy="328.98" r="3.9"/><circle cx="351.99" cy="328.98" r="3.9"/><circle cx="362.92" cy="328.98" r="3.9"/><circle cx="373.85" cy="328.98" r="3.9"/><circle cx="384.78" cy="328.98" r="3.9"/><circle cx="395.71" cy="328.98" r="3.9"/><circle cx="406.64" cy="328.98" r="3.9"/><circle cx="417.57" cy="328.98" r="3.9"/><circle cx="428.50" cy="328.98" r="3.9"/><circle cx="439.43" cy="328.98" r="3.9"/><circle cx="450.36" cy="328.98" r="3.9"/><circle cx="461.29" cy="328.98" r="3.9"/><circle cx="472.22" cy="328.98" r="3.9"/><circle cx="483.15" cy="328.98" r="3.9"/><circle cx="319.20" cy="339.54" r="3.9"/><circle cx="330.13" cy="339.54" r="3.9"/><circle cx="341.06" cy="339.54" r="3.9"/><circle cx="351.99" cy="339.54" r="3.9"/><circle cx="362.92" cy="339.54" r="3.9"/><circle cx="373.85" cy="339.54" r="3.9"/><circle cx="384.78" cy="339.54" r="3.9"/><circle cx="395.71" cy="339.54" r="3.9"/><circle cx="406.64" cy="339.54" r="3.9"/><circle cx="417.57" cy="339.54" r="3.9"/><circle cx="428.50" cy="339.54" r="3.9"/><circle cx="439.43" cy="339.54" r="3.9"/><circle cx="450.36" cy="339.54" r="3.9"/><circle cx="461.29" cy="339.54" r="3.9"/><circle cx="472.22" cy="339.54" r="3.9"/><circle cx="483.15" cy="339.54" r="3.9"/><circle cx="319.20" cy="350.10" r="3.9"/><circle cx="330.13" cy="350.10" r="3.9"/><circle cx="341.06" cy="350.10" r="3.9"/><circle cx="351.99" cy="350.10" r="3.9"/><circle cx="362.92" cy="350.10" r="3.9"/><circle cx="373.85" cy="350.10" r="3.9"/><circle cx="384.78" cy="350.10" r="3.9"/><circle cx="395.71" cy="350.10" r="3.9"/><circle cx="406.64" cy="350.10" r="3.9"/><circle cx="417.57" cy="350.10" r="3.9"/><circle cx="428.50" cy="350.10" r="3.9"/><circle cx="439.43" cy="350.10" r="3.9"/><circle cx="450.36" cy="350.10" r="3.9"/><circle cx="461.29" cy="350.10" r="3.9"/><circle cx="472.22" cy="350.10" r="3.9"/><circle cx="483.15" cy="350.10" r="3.9"/><circle cx="319.20" cy="360.66" r="3.9"/><circle cx="330.13" cy="360.66" r="3.9"/><circle cx="341.06" cy="360.66" r="3.9"/><circle cx="351.99" cy="360.66" r="3.9"/><circle cx="362.92" cy="360.66" r="3.9"/><circle cx="373.85" cy="360.66" r="3.9"/><circle cx="384.78" cy="360.66" r="3.9"/><circle cx="395.71" cy="360.66" r="3.9"/><circle cx="406.64" cy="360.66" r="3.9"/><circle cx="417.57" cy="360.66" r="3.9"/><circle cx="428.50" cy="360.66" r="3.9"/><circle cx="450.36" cy="360.66" r="3.9"/><circle cx="472.22" cy="360.66" r="3.9"/><circle cx="483.15" cy="360.66" r="3.9"/><circle cx="319.20" cy="371.22" r="3.9"/><circle cx="330.13" cy="371.22" r="3.9"/><circle cx="341.06" cy="371.22" r="3.9"/><circle cx="351.99" cy="371.22" r="3.9"/><circle cx="362.92" cy="371.22" r="3.9"/><circle cx="373.85" cy="371.22" r="3.9"/><circle cx="384.78" cy="371.22" r="3.9"/><circle cx="417.57" cy="371.22" r="3.9"/><circle cx="472.22" cy="371.22" r="3.9"/><circle cx="483.15" cy="371.22" r="3.9"/></g><text x="9.6" y="427.8" font-size="16.4" font-weight="bold" fill="#111">C</text><rect x="279.2" y="430" width="8.5" height="7.7" fill="#F28C0E"/><rect x="279.2" y="449" width="8.5" height="8" fill="#3AA935"/><text x="292.7" y="437.3" font-size="10.3" fill="#231f20">let-7a-5p high</text><text x="292.7" y="456.5" font-size="10.3" fill="#231f20">let-7a-5p low</text><text x="199.4" y="433.7" font-size="13.75" text-anchor="middle" fill="#231f20">CpG island 1</text><path d="M58.6,445.5V587.1H348" stroke="#111" stroke-width="1.3" fill="none"/><text x="48.7" y="590.7" font-size="10.4" text-anchor="end" fill="#231f20">0</text><text x="48.7" y="563.3" font-size="10.4" text-anchor="end" fill="#231f20">20</text><text x="48.7" y="535.9" font-size="10.4" text-anchor="end" fill="#231f20">40</text><text x="48.7" y="508.4" font-size="10.4" text-anchor="end" fill="#231f20">60</text><text x="48.7" y="481.0" font-size="10.4" text-anchor="end" fill="#231f20">80</text><text x="48.7" y="453.6" font-size="10.4" text-anchor="end" fill="#231f20">100</text><text x="66.50" y="606.5" font-size="10.4" text-anchor="middle" fill="#231f20">1</text><text x="82.59" y="606.5" font-size="10.4" text-anchor="middle" fill="#231f20">2</text><text x="98.69" y="606.5" font-size="10.4" text-anchor="middle" fill="#231f20">3</text><text x="114.78" y="606.5" font-size="10.4" text-anchor="middle" fill="#231f20">4</text><text x="130.88" y="606.5" font-size="10.4" text-anchor="middle" fill="#231f20">5</text><text x="146.97" y="606.5" font-size="10.4" text-anchor="middle" fill="#231f20">6</text><text x="163.06" y="606.5" font-size="10.4" text-anchor="middle" fill="#231f20">7</text><text x="179.16" y="606.5" font-size="10.4" text-anchor="middle" fill="#231f20">8</text><text x="195.25" y="606.5" font-size="10.4" text-anchor="middle" fill="#231f20">9</text><text x="211.35" y="606.5" font-size="10.4" text-anchor="middle" fill="#231f20">10</text><text x="227.44" y="606.5" font-size="10.4" text-anchor="middle" fill="#231f20">11</text><text x="243.53" y="606.5" font-size="10.4" text-anchor="middle" fill="#231f20">12</text><text x="259.63" y="606.5" font-size="10.4" text-anchor="middle" fill="#231f20">13</text><text x="275.72" y="606.5" font-size="10.4" text-anchor="middle" fill="#231f20">14</text><text x="291.82" y="606.5" font-size="10.4" text-anchor="middle" fill="#231f20">15</text><text x="307.91" y="606.5" font-size="10.4" text-anchor="middle" fill="#231f20">16</text><text x="324.00" y="606.5" font-size="10.4" text-anchor="middle" fill="#231f20">17</text><text x="340.10" y="606.5" font-size="10.4" text-anchor="middle" fill="#231f20">18</text><path d="M54.6,587.10H58.6 M54.6,559.68H58.6 M54.6,532.26H58.6 M54.6,504.84H58.6 M54.6,477.42H58.6 M54.6,450.00H58.6 M66.50,587.1V591.1 M82.59,587.1V591.1 M98.69,587.1V591.1 M114.78,587.1V591.1 M130.88,587.1V591.1 M146.97,587.1V591.1 M163.06,587.1V591.1 M179.16,587.1V591.1 M195.25,587.1V591.1 M211.35,587.1V591.1 M227.44,587.1V591.1 M243.53,587.1V591.1 M259.63,587.1V591.1 M275.72,587.1V591.1 M291.82,587.1V591.1 M307.91,587.1V591.1 M324.00,587.1V591.1 M340.10,587.1V591.1" stroke="#111" stroke-width="1.2" fill="none"/><rect x="61.75" y="468.23" width="4.3" height="118.87" fill="#F28C0E"/><rect x="67.30" y="481.26" width="4.3" height="105.84" fill="#3AA935"/><rect x="77.84" y="469.19" width="4.3" height="117.91" fill="#F28C0E"/><rect x="83.39" y="491.27" width="4.3" height="95.83" fill="#3AA935"/><rect x="93.94" y="492.36" width="4.3" height="94.74" fill="#F28C0E"/><rect x="99.49" y="481.26" width="4.3" height="105.84" fill="#3AA935"/><rect x="110.03" y="494.15" width="4.3" height="92.95" fill="#F28C0E"/><rect x="115.58" y="481.26" width="4.3" height="105.84" fill="#3AA935"/><rect x="126.13" y="494.15" width="4.3" height="92.95" fill="#F28C0E"/><rect x="131.68" y="496.20" width="4.3" height="90.90" fill="#3AA935"/><rect x="142.22" y="463.16" width="4.3" height="123.94" fill="#F28C0E"/><rect x="147.77" y="496.20" width="4.3" height="90.90" fill="#3AA935"/><rect x="158.31" y="474.68" width="4.3" height="112.42" fill="#F28C0E"/><rect x="163.86" y="491.27" width="4.3" height="95.83" fill="#3AA935"/><rect x="174.41" y="480.44" width="4.3" height="106.66" fill="#F28C0E"/><rect x="179.96" y="511.56" width="4.3" height="75.54" fill="#3AA935"/><rect x="190.50" y="519.24" width="4.3" height="67.86" fill="#F28C0E"/><rect x="196.05" y="486.19" width="4.3" height="100.91" fill="#3AA935"/><rect x="206.60" y="516.36" width="4.3" height="70.74" fill="#F28C0E"/><rect x="212.15" y="481.26" width="4.3" height="105.84" fill="#3AA935"/><rect x="222.69" y="510.32" width="4.3" height="76.78" fill="#F28C0E"/><rect x="228.24" y="516.90" width="4.3" height="70.20" fill="#3AA935"/><rect x="238.78" y="462.75" width="4.3" height="124.35" fill="#F28C0E"/><rect x="244.33" y="511.56" width="4.3" height="75.54" fill="#3AA935"/><rect x="254.88" y="516.36" width="4.3" height="70.74" fill="#F28C0E"/><rect x="260.43" y="511.70" width="4.3" height="75.41" fill="#3AA935"/><rect x="270.97" y="480.02" width="4.3" height="107.08" fill="#F28C0E"/><rect x="276.52" y="480.98" width="4.3" height="106.12" fill="#3AA935"/><rect x="287.07" y="474.27" width="4.3" height="112.83" fill="#F28C0E"/><rect x="292.62" y="486.06" width="4.3" height="101.04" fill="#3AA935"/><rect x="303.16" y="486.47" width="4.3" height="100.63" fill="#F28C0E"/><rect x="308.71" y="491.13" width="4.3" height="95.97" fill="#3AA935"/><rect x="319.25" y="486.47" width="4.3" height="100.63" fill="#F28C0E"/><rect x="324.80" y="491.13" width="4.3" height="95.97" fill="#3AA935"/><rect x="335.35" y="480.02" width="4.3" height="107.08" fill="#F28C0E"/><rect x="340.90" y="475.91" width="4.3" height="111.19" fill="#3AA935"/><path d="M143.8,457.7H153.5" stroke="#333" stroke-width="1"/><text x="148.8" y="457.3" font-size="10.5" text-anchor="middle" fill="#1a1a1a">*</text><path d="M241,458.3H250" stroke="#333" stroke-width="1"/><text x="245.8" y="457.6" font-size="10.5" text-anchor="middle" fill="#1a1a1a">*</text><text transform="translate(21.3,513.25) rotate(-90)" font-size="10.9" text-anchor="middle" fill="#231f20" stroke="#231f20" stroke-width="0.35" textLength="102.2" lengthAdjust="spacingAndGlyphs">Ratio of methylation (%)</text><text x="203.5" y="625.5" font-size="13.1" text-anchor="middle" fill="#231f20" stroke="#231f20" stroke-width="0.35" textLength="63.3" lengthAdjust="spacingAndGlyphs">No. of CpG site</text><text x="199.4" y="662.4" font-size="13.75" text-anchor="middle" fill="#231f20">CpG island 2</text><path d="M58.6,672.4V814.0H348" stroke="#111" stroke-width="1.3" fill="none"/><text x="48.7" y="817.6" font-size="10.4" text-anchor="end" fill="#231f20">0</text><text x="48.7" y="790.2" font-size="10.4" text-anchor="end" fill="#231f20">20</text><text x="48.7" y="762.8" font-size="10.4" text-anchor="end" fill="#231f20">40</text><text x="48.7" y="735.3" font-size="10.4" text-anchor="end" fill="#231f20">60</text><text x="48.7" y="707.9" font-size="10.4" text-anchor="end" fill="#231f20">80</text><text x="48.7" y="680.5" font-size="10.4" text-anchor="end" fill="#231f20">100</text><text x="66.50" y="833.4" font-size="10.4" text-anchor="middle" fill="#231f20">1</text><text x="82.59" y="833.4" font-size="10.4" text-anchor="middle" fill="#231f20">2</text><text x="98.69" y="833.4" font-size="10.4" text-anchor="middle" fill="#231f20">3</text><text x="114.78" y="833.4" font-size="10.4" text-anchor="middle" fill="#231f20">4</text><text x="130.88" y="833.4" font-size="10.4" text-anchor="middle" fill="#231f20">5</text><text x="146.97" y="833.4" font-size="10.4" text-anchor="middle" fill="#231f20">6</text><text x="163.06" y="833.4" font-size="10.4" text-anchor="middle" fill="#231f20">7</text><text x="179.16" y="833.4" font-size="10.4" text-anchor="middle" fill="#231f20">8</text><text x="195.25" y="833.4" font-size="10.4" text-anchor="middle" fill="#231f20">9</text><text x="211.35" y="833.4" font-size="10.4" text-anchor="middle" fill="#231f20">10</text><text x="227.44" y="833.4" font-size="10.4" text-anchor="middle" fill="#231f20">11</text><text x="243.53" y="833.4" font-size="10.4" text-anchor="middle" fill="#231f20">12</text><text x="259.63" y="833.4" font-size="10.4" text-anchor="middle" fill="#231f20">13</text><text x="275.72" y="833.4" font-size="10.4" text-anchor="middle" fill="#231f20">14</text><text x="291.82" y="833.4" font-size="10.4" text-anchor="middle" fill="#231f20">15</text><text x="307.91" y="833.4" font-size="10.4" text-anchor="middle" fill="#231f20">16</text><text x="324.00" y="833.4" font-size="10.4" text-anchor="middle" fill="#231f20">17</text><text x="340.10" y="833.4" font-size="10.4" text-anchor="middle" fill="#231f20">18</text><path d="M54.6,814.00H58.6 M54.6,786.58H58.6 M54.6,759.16H58.6 M54.6,731.74H58.6 M54.6,704.32H58.6 M54.6,676.90H58.6 M66.50,814.0V818.0 M82.59,814.0V818.0 M98.69,814.0V818.0 M114.78,814.0V818.0 M130.88,814.0V818.0 M146.97,814.0V818.0 M163.06,814.0V818.0 M179.16,814.0V818.0 M195.25,814.0V818.0 M211.35,814.0V818.0 M227.44,814.0V818.0 M243.53,814.0V818.0 M259.63,814.0V818.0 M275.72,814.0V818.0 M291.82,814.0V818.0 M307.91,814.0V818.0 M324.00,814.0V818.0 M340.10,814.0V818.0" stroke="#111" stroke-width="1.2" fill="none"/><rect x="61.75" y="789.05" width="4.3" height="24.95" fill="#F28C0E"/><rect x="67.30" y="801.94" width="4.3" height="12.06" fill="#3AA935"/><rect x="77.84" y="780.27" width="4.3" height="33.73" fill="#F28C0E"/><rect x="83.39" y="797.27" width="4.3" height="16.73" fill="#3AA935"/><rect x="93.94" y="762.59" width="4.3" height="51.41" fill="#F28C0E"/><rect x="99.49" y="788.50" width="4.3" height="25.50" fill="#3AA935"/><rect x="110.03" y="740.93" width="4.3" height="73.07" fill="#F28C0E"/><rect x="115.58" y="759.30" width="4.3" height="54.70" fill="#3AA935"/><rect x="126.13" y="713.37" width="4.3" height="100.63" fill="#F28C0E"/><rect x="131.68" y="745.72" width="4.3" height="68.28" fill="#3AA935"/><rect x="142.22" y="710.90" width="4.3" height="103.10" fill="#F28C0E"/><rect x="147.77" y="743.67" width="4.3" height="70.33" fill="#3AA935"/><rect x="158.31" y="694.72" width="4.3" height="119.28" fill="#F28C0E"/><rect x="163.86" y="735.17" width="4.3" height="78.83" fill="#3AA935"/><rect x="174.41" y="772.05" width="4.3" height="41.95" fill="#F28C0E"/><rect x="179.96" y="774.93" width="4.3" height="39.07" fill="#3AA935"/><rect x="190.50" y="737.50" width="4.3" height="76.50" fill="#F28C0E"/><rect x="196.05" y="774.93" width="4.3" height="39.07" fill="#3AA935"/><rect x="206.60" y="789.32" width="4.3" height="24.68" fill="#F28C0E"/><rect x="212.15" y="801.94" width="4.3" height="12.06" fill="#3AA935"/><rect x="222.69" y="737.50" width="4.3" height="76.50" fill="#F28C0E"/><rect x="228.24" y="757.24" width="4.3" height="56.76" fill="#3AA935"/><rect x="238.78" y="772.05" width="4.3" height="41.95" fill="#F28C0E"/><rect x="244.33" y="792.48" width="4.3" height="21.52" fill="#3AA935"/><rect x="254.88" y="771.91" width="4.3" height="42.09" fill="#F28C0E"/><rect x="260.43" y="775.06" width="4.3" height="38.94" fill="#3AA935"/><rect x="270.97" y="729.14" width="4.3" height="84.86" fill="#F28C0E"/><rect x="276.52" y="752.72" width="4.3" height="61.28" fill="#3AA935"/><rect x="287.07" y="729.14" width="4.3" height="84.86" fill="#F28C0E"/><rect x="292.62" y="770.40" width="4.3" height="43.60" fill="#3AA935"/><rect x="303.16" y="719.81" width="4.3" height="94.19" fill="#F28C0E"/><rect x="308.71" y="748.19" width="4.3" height="65.81" fill="#3AA935"/><rect x="319.25" y="737.64" width="4.3" height="76.36" fill="#F28C0E"/><rect x="324.80" y="755.46" width="4.3" height="58.54" fill="#3AA935"/><rect x="335.35" y="711.72" width="4.3" height="102.28" fill="#F28C0E"/><rect x="340.90" y="741.61" width="4.3" height="72.39" fill="#3AA935"/><path d="M94.4,755.4H104" stroke="#333" stroke-width="1"/><text x="99.2" y="755.1" font-size="10.5" text-anchor="middle" fill="#1a1a1a">*</text><path d="M126.5,707.9H135.8" stroke="#333" stroke-width="1"/><text x="131.3" y="707.3" font-size="10.5" text-anchor="middle" fill="#1a1a1a">*</text><path d="M142.5,704.4H152.1" stroke="#333" stroke-width="1"/><text x="147.7" y="703.8" font-size="10.5" text-anchor="middle" fill="#1a1a1a">*</text><path d="M160.3,689.4H170.4" stroke="#333" stroke-width="1"/><text x="165.7" y="688.9" font-size="10.5" text-anchor="middle" fill="#1a1a1a">**</text><path d="M190.4,732.3H200" stroke="#333" stroke-width="1"/><text x="195.45" y="732.3" font-size="10.5" text-anchor="middle" fill="#1a1a1a">**</text><path d="M239,766.3H249" stroke="#333" stroke-width="1"/><text x="244.2" y="766.3" font-size="10.5" text-anchor="middle" fill="#1a1a1a">*</text><path d="M287.4,717.5H297.1" stroke="#333" stroke-width="1"/><text x="292.45" y="717.1" font-size="10.5" text-anchor="middle" fill="#1a1a1a">**</text><path d="M335.3,704H345" stroke="#333" stroke-width="1"/><text x="339.9" y="703.4" font-size="10.5" text-anchor="middle" fill="#1a1a1a">*</text><text transform="translate(21.3,740.1500000000001) rotate(-90)" font-size="10.9" text-anchor="middle" fill="#231f20" stroke="#231f20" stroke-width="0.35" textLength="102.2" lengthAdjust="spacingAndGlyphs">Ratio of methylation (%)</text><text x="203.5" y="852.4" font-size="13.1" text-anchor="middle" fill="#231f20" stroke="#231f20" stroke-width="0.35" textLength="63.3" lengthAdjust="spacingAndGlyphs">No. of CpG site</text><text x="459.6" y="434.5" font-size="13.75" text-anchor="middle" fill="#231f20">CpG island 1</text><path d="M422.6,456.9V588.1H510" stroke="#111" stroke-width="1.3" fill="none"/><text x="413.6" y="592.0" font-size="11.1" text-anchor="end" fill="#231f20">0</text><text x="413.6" y="566.7" font-size="11.1" text-anchor="end" fill="#231f20">20</text><text x="413.6" y="541.4" font-size="11.1" text-anchor="end" fill="#231f20">40</text><text x="413.6" y="516.2" font-size="11.1" text-anchor="end" fill="#231f20">60</text><text x="413.6" y="490.9" font-size="11.1" text-anchor="end" fill="#231f20">80</text><text x="413.6" y="465.6" font-size="11.1" text-anchor="end" fill="#231f20">100</text><path d="M418.4,588.10H422.6 M418.4,562.82H422.6 M418.4,537.54H422.6 M418.4,512.26H422.6 M418.4,486.98H422.6 M418.4,461.70H422.6 M447.1,588.1V592.1 M484.8,588.1V592.1" stroke="#111" stroke-width="1.2" fill="none"/><rect x="435.2" y="494.82" width="24.4" height="93.28" fill="#F28C0E"/><rect x="473.2" y="500.00" width="23.7" height="88.10" fill="#3AA935"/><path d="M447.4,490.50V498.50M441.4,490.50H453.4M441.4,498.50H453.4" stroke="#1a1a1a" stroke-width="1.1" fill="none"/><path d="M485.2,497.50V502.50M479.2,497.50H491.2M479.2,502.50H491.2" stroke="#1a1a1a" stroke-width="1.1" fill="none"/><g fill="#111"><circle cx="444.60" cy="472.10" r="1.35"/><circle cx="449.80" cy="472.10" r="1.35"/><circle cx="444.60" cy="478.20" r="1.35"/><circle cx="449.80" cy="477.50" r="1.35"/><circle cx="444.60" cy="483.10" r="1.35"/><circle cx="449.80" cy="483.10" r="1.35"/><circle cx="441.90" cy="488.10" r="1.35"/><circle cx="447.30" cy="488.10" r="1.35"/><circle cx="452.50" cy="488.10" r="1.35"/><circle cx="444.60" cy="494.10" r="1.35"/><circle cx="449.80" cy="494.10" r="1.35"/><circle cx="441.90" cy="501.80" r="1.35"/><circle cx="447.30" cy="499.80" r="1.35"/><circle cx="452.50" cy="501.80" r="1.35"/><circle cx="447.10" cy="515.90" r="1.35"/><circle cx="444.50" cy="521.90" r="1.35"/><circle cx="449.80" cy="521.90" r="1.35"/><circle cx="447.10" cy="524.40" r="1.35"/><circle cx="484.90" cy="484.50" r="1.35"/><circle cx="473.80" cy="489.10" r="1.35"/><circle cx="479.20" cy="489.10" r="1.35"/><circle cx="484.90" cy="489.10" r="1.35"/><circle cx="490.40" cy="489.10" r="1.35"/><circle cx="496.00" cy="489.10" r="1.35"/><circle cx="482.10" cy="494.00" r="1.35"/><circle cx="487.60" cy="494.00" r="1.35"/><circle cx="476.20" cy="498.50" r="1.35"/><circle cx="482.10" cy="498.50" r="1.35"/><circle cx="487.60" cy="498.50" r="1.35"/><circle cx="493.20" cy="498.50" r="1.35"/><circle cx="482.10" cy="503.30" r="1.35"/><circle cx="487.60" cy="503.30" r="1.35"/><circle cx="479.20" cy="517.50" r="1.35"/><circle cx="484.90" cy="517.50" r="1.35"/><circle cx="490.40" cy="517.50" r="1.35"/><circle cx="484.90" cy="522.10" r="1.35"/></g><text transform="translate(453.70000000000005,600.3000000000001) rotate(-45)" font-size="11.3" text-anchor="end" fill="#231f20">let-7 high</text><text transform="translate(491.40000000000003,600.3000000000001) rotate(-45)" font-size="11.3" text-anchor="end" fill="#231f20">let-7 low</text><text transform="translate(380.7,522.3000000000001) rotate(-90)" font-size="11.2" text-anchor="middle" fill="#231f20" stroke="#231f20" stroke-width="0.35" textLength="105.4" lengthAdjust="spacingAndGlyphs">Ratio of methylation (%)</text><path d="M446.3,463.7H485.5" stroke="#222" stroke-width="1"/><text x="468.6" y="458.9" font-size="11.3" text-anchor="middle" fill="#231f20">ns</text><text x="459.6" y="663.1" font-size="13.75" text-anchor="middle" fill="#231f20">CpG island 2</text><path d="M422.6,681.9V813.1H510" stroke="#111" stroke-width="1.3" fill="none"/><text x="413.6" y="817.0" font-size="11.1" text-anchor="end" fill="#231f20">0</text><text x="413.6" y="791.7" font-size="11.1" text-anchor="end" fill="#231f20">20</text><text x="413.6" y="766.4" font-size="11.1" text-anchor="end" fill="#231f20">40</text><text x="413.6" y="741.2" font-size="11.1" text-anchor="end" fill="#231f20">60</text><text x="413.6" y="715.9" font-size="11.1" text-anchor="end" fill="#231f20">80</text><text x="413.6" y="690.6" font-size="11.1" text-anchor="end" fill="#231f20">100</text><path d="M418.4,813.10H422.6 M418.4,787.82H422.6 M418.4,762.54H422.6 M418.4,737.26H422.6 M418.4,711.98H422.6 M418.4,686.70H422.6 M447.1,813.1V817.1 M484.8,813.1V817.1" stroke="#111" stroke-width="1.2" fill="none"/><rect x="435.2" y="748.51" width="24.4" height="64.59" fill="#F28C0E"/><rect x="473.2" y="792.12" width="23.7" height="20.98" fill="#3AA935"/><path d="M447.4,742.50V754.50M441.4,742.50H453.4M441.4,754.50H453.4" stroke="#1a1a1a" stroke-width="1.1" fill="none"/><path d="M485.2,788.50V796.50M479.2,788.50H491.2M479.2,796.50H491.2" stroke="#1a1a1a" stroke-width="1.1" fill="none"/><g fill="#111"><circle cx="447.50" cy="702.00" r="1.35"/><circle cx="442.30" cy="717.60" r="1.35"/><circle cx="453.00" cy="717.60" r="1.35"/><circle cx="447.50" cy="720.00" r="1.35"/><circle cx="447.50" cy="725.80" r="1.35"/><circle cx="444.70" cy="733.70" r="1.35"/><circle cx="450.50" cy="733.70" r="1.35"/><circle cx="442.30" cy="741.50" r="1.35"/><circle cx="447.50" cy="741.50" r="1.35"/><circle cx="453.00" cy="741.50" r="1.35"/><circle cx="447.50" cy="745.50" r="1.35"/><circle cx="447.50" cy="765.30" r="1.35"/><circle cx="442.30" cy="773.50" r="1.35"/><circle cx="447.50" cy="773.50" r="1.35"/><circle cx="453.00" cy="773.50" r="1.35"/><circle cx="447.50" cy="781.40" r="1.35"/><circle cx="444.70" cy="789.00" r="1.35"/><circle cx="450.50" cy="789.00" r="1.35"/><circle cx="473.80" cy="776.80" r="1.35"/><circle cx="496.50" cy="776.80" r="1.35"/><circle cx="475.30" cy="779.20" r="1.35"/><circle cx="477.75" cy="779.20" r="1.35"/><circle cx="480.20" cy="779.20" r="1.35"/><circle cx="482.65" cy="779.20" r="1.35"/><circle cx="485.10" cy="779.20" r="1.35"/><circle cx="487.55" cy="779.20" r="1.35"/><circle cx="490.00" cy="779.20" r="1.35"/><circle cx="492.45" cy="779.20" r="1.35"/><circle cx="494.90" cy="779.20" r="1.35"/><circle cx="477.70" cy="812.80" r="1.35"/><circle cx="480.20" cy="812.80" r="1.35"/><circle cx="482.70" cy="812.80" r="1.35"/><circle cx="485.20" cy="812.80" r="1.35"/><circle cx="487.70" cy="812.80" r="1.35"/><circle cx="490.20" cy="812.80" r="1.35"/><circle cx="492.70" cy="812.80" r="1.35"/></g><text transform="translate(453.70000000000005,825.3000000000001) rotate(-45)" font-size="11.3" text-anchor="end" fill="#231f20">let-7 high</text><text transform="translate(491.40000000000003,825.3000000000001) rotate(-45)" font-size="11.3" text-anchor="end" fill="#231f20">let-7 low</text><text transform="translate(380.7,747.3000000000001) rotate(-90)" font-size="11.2" text-anchor="middle" fill="#231f20" stroke="#231f20" stroke-width="0.35" textLength="105.4" lengthAdjust="spacingAndGlyphs">Ratio of methylation (%)</text><path d="M446.3,697.5H485.5" stroke="#222" stroke-width="1"/><text x="443.3" y="690.6" font-size="11.75" fill="#231f20"><tspan font-style="italic">P</tspan> = .0015</text><rect x="0.5" y="0.5" width="519" height="868" fill="none" stroke="#2e2e2e" stroke-width="1.2"/></svg>
</body></html>
